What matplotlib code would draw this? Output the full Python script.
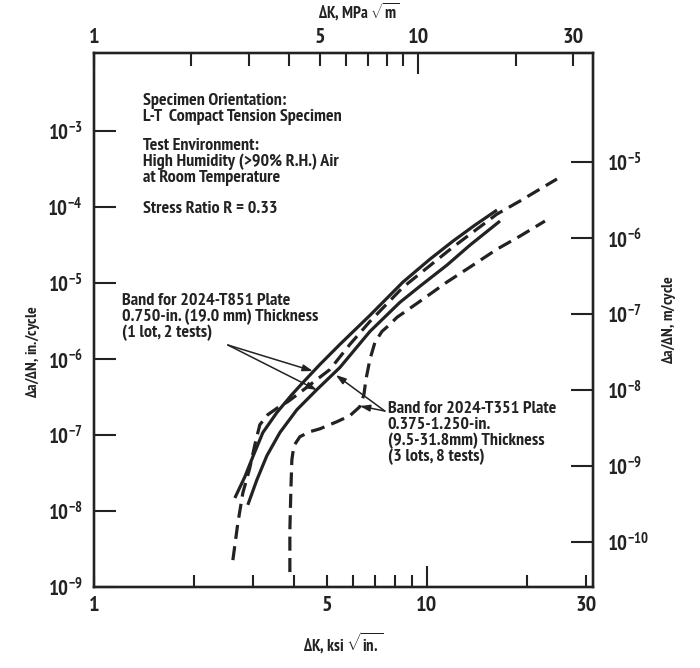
import matplotlib
matplotlib.use("Agg")
import matplotlib.pyplot as plt
from matplotlib import font_manager as fm
from matplotlib.ticker import FixedLocator, NullLocator, FixedFormatter
import numpy as np

# pick an installed condensed sans font that has a static bold file
_weights = {'bold': 700, 'heavy': 800, 'black': 900, 'semibold': 600, 'demibold': 600,
            'normal': 400, 'regular': 400, 'medium': 500, 'light': 300}
def _w(v):
    try:
        return int(v)
    except (TypeError, ValueError):
        return _weights.get(str(v).lower(), 400)
cands = ['Archivo Narrow', 'PT Sans Narrow', 'Roboto Condensed', 'Barlow Condensed',
         'IBM Plex Sans Condensed', 'Encode Sans Condensed', 'Asap Condensed',
         'Sofia Sans Condensed', 'Open Sans Condensed', 'Liberation Sans']
FONT = 'DejaVu Sans'
for c in cands:
    ok = [f for f in fm.fontManager.ttflist
          if f.name == c and _w(f.weight) >= 700 and '[' not in f.fname
          and f.style == 'normal']
    if ok:
        FONT = c
        break

plt.rcParams['font.family'] = [FONT, 'DejaVu Sans']
plt.rcParams['font.weight'] = 'bold'
plt.rcParams['axes.labelweight'] = 'bold'
plt.rcParams['mathtext.fontset'] = 'custom'
plt.rcParams['mathtext.rm'] = FONT + ':bold'
plt.rcParams['mathtext.it'] = FONT + ':bold'
plt.rcParams['mathtext.bf'] = FONT + ':bold'
plt.rcParams['mathtext.sf'] = FONT + ':bold'

INK = '#222222'

# ---- data ----
# 2024-T851 band, upper solid boundary  (dK ksi sqrt(in), da/dN in/cycle)
t851_upper_dk = [2.651, 2.841, 3.002, 3.217, 3.544, 3.932, 4.243, 4.772, 5.479, 6.744,
                 8.472, 10.21, 11.97, 13.94, 16.23]
t851_upper_da = [1.49e-8, 2.83e-8, 5.19e-8, 1.08e-7, 1.98e-7, 3.41e-7, 4.91e-7, 8.49e-7,
                 1.56e-6, 3.76e-6, 1.03e-5, 2.06e-5, 3.56e-5, 5.79e-5, 9.13e-5]
# 2024-T851 band, lower solid boundary
t851_lower_dk = [2.900, 3.087, 3.307, 3.619, 4.071, 4.674, 5.479, 6.744, 8.298, 9.528,
                 11.48, 13.46, 16.57]
t851_lower_da = [1.21e-8, 2.58e-8, 5.35e-8, 1.08e-7, 2.16e-7, 3.97e-7, 7.75e-7, 2.31e-6,
                 5.58e-6, 9.08e-6, 1.72e-5, 3.15e-5, 6.54e-5]
# 2024-T351 band, upper dashed boundary
t351_upper_dk = [2.615, 2.707, 2.802, 2.941, 3.044, 3.151, 3.330, 3.569, 3.825, 4.156,
                 4.547, 5.113, 5.871, 6.744, 8.472, 11.97, 16.23, 19.02, 24.57]
t351_upper_da = [2.27e-9, 6.99e-9, 1.74e-8, 3.72e-8, 7.47e-8, 1.37e-7, 1.86e-7, 2.30e-7,
                 2.76e-7, 3.62e-7, 4.91e-7, 7.29e-7, 1.56e-6, 3.13e-6, 8.80e-6, 2.97e-5,
                 8.08e-5, 1.20e-4, 2.34e-4]
# 2024-T351 band, lower dashed boundary
t351_lower_dk = [3.878, 3.878, 3.905, 3.932, 3.987, 4.156, 4.454, 4.772, 5.366, 5.871,
                 6.293, 6.470, 6.560, 6.744, 6.981, 7.328, 7.744, 8.128, 9.528, 11.48,
                 13.46, 16.23, 19.02, 22.61]
t351_lower_da = [1.58e-9, 5.65e-9, 1.90e-8, 4.74e-8, 7.25e-8, 9.53e-8, 1.11e-7, 1.21e-7,
                 1.50e-7, 1.80e-7, 2.37e-7, 3.41e-7, 5.38e-7, 9.88e-7, 1.66e-6, 2.31e-6,
                 2.86e-6, 3.54e-6, 5.75e-6, 1.03e-5, 1.62e-5, 2.79e-5, 4.14e-5, 6.54e-5]

x_label_ticks = [1, 5, 30]           # labelled short ticks
x_long_ticks = [10]                  # labelled long tick
x_short_ticks = [1, 2, 3, 4, 5, 6, 7, 8, 9, 20, 30]
y_ticks_in = [1e-9, 1e-8, 1e-7, 1e-6, 1e-5, 1e-4, 1e-3]
y_ticks_m = [1e-10, 1e-9, 1e-8, 1e-7, 1e-6, 1e-5]

XMIN, XMAX = 1.0, 31.5
YMIN, YMAX = 1e-9, 1.07e-2
KSI_TO_MPA = 1.0988
IN_TO_M = 0.0254

fig = plt.figure(figsize=(7.0, 6.68), dpi=100)
ax = fig.add_axes([0.134, 0.121, 0.713, 0.800])
ax.set_xscale('log'); ax.set_yscale('log')
ax.set_xlim(XMIN, XMAX); ax.set_ylim(YMIN, YMAX)

lw = 2.3
ax.plot(t851_upper_dk, t851_upper_da, color=INK, lw=lw, solid_capstyle='butt', solid_joinstyle='round')
ax.plot(t851_lower_dk, t851_lower_da, color=INK, lw=lw, solid_capstyle='butt', solid_joinstyle='round')
ax.plot(t351_upper_dk, t351_upper_da, color=INK, lw=lw, dashes=(4.4, 2.3))
ax.plot(t351_lower_dk, t351_lower_da, color=INK, lw=lw, dashes=(4.4, 2.3))

def sup(v):
    e = int(round(np.log10(v)))
    return r'$\mathregular{10^{%d}}$' % e

def style_x(a, labelpad_pts):
    a.xaxis.set_major_locator(FixedLocator(x_long_ticks))
    a.xaxis.set_major_formatter(FixedFormatter([str(v) for v in x_long_ticks]))
    a.xaxis.set_minor_locator(FixedLocator(x_short_ticks))
    a.xaxis.set_minor_formatter(FixedFormatter(
        [str(v) if v in x_label_ticks else '' for v in x_short_ticks]))
    a.tick_params(axis='x', which='major', direction='in', length=15, width=1.5,
                  labelsize=16, pad=labelpad_pts, colors=INK)
    a.tick_params(axis='x', which='minor', direction='in', length=9, width=1.5,
                  labelsize=16, pad=labelpad_pts, colors=INK)

# bottom axis (ksi sqrt in)
style_x(ax, 6)
ax.set_xlabel(r'$\Delta$K, ksi $\sqrt{\mathrm{in.}}$', fontsize=12, color=INK, fontweight='bold')
ax.xaxis.set_label_coords(0.5, -0.08)

# left axis
ax.yaxis.set_major_locator(FixedLocator(y_ticks_in))
ax.yaxis.set_major_formatter(FixedFormatter([sup(v) for v in y_ticks_in]))
ax.yaxis.set_minor_locator(NullLocator())
ax.tick_params(axis='y', which='major', direction='in', length=16, width=1.5, labelsize=15,
               pad=8, colors=INK)
ax.set_ylabel(r'$\Delta$a/$\Delta$N, in./cycle', fontsize=11.5, color=INK, fontweight='bold')
ax.yaxis.set_label_coords(-0.104, 0.44)

# top axis (MPa sqrt m)
axt = ax.twiny()
axt.set_xscale('log')
axt.set_xlim(XMIN * KSI_TO_MPA / 1.0988, XMAX * KSI_TO_MPA)
style_x(axt, 4)
axt.set_xlabel(r'$\Delta$K, MPa $\sqrt{\mathrm{m}}$', fontsize=12, color=INK, fontweight='bold')
axt.xaxis.set_label_coords(0.53, 1.065)

# right axis (m/cycle)
axr = ax.twinx()
axr.set_yscale('log')
axr.set_ylim(YMIN * IN_TO_M, YMAX * IN_TO_M)
axr.yaxis.set_major_locator(FixedLocator(y_ticks_m))
axr.yaxis.set_major_formatter(FixedFormatter([sup(v) for v in y_ticks_m]))
axr.yaxis.set_minor_locator(NullLocator())
axr.tick_params(axis='y', which='major', direction='in', length=16, width=1.5, labelsize=15,
                pad=10, colors=INK)
axr.set_ylabel(r'$\Delta$a/$\Delta$N, m/cycle', fontsize=11.5, color=INK, rotation=90,
               fontweight='bold')
axr.yaxis.set_label_coords(1.132, 0.50)

for a in (ax, axt, axr):
    for s in a.spines.values():
        s.set_linewidth(1.6); s.set_color(INK)

# ---- annotations ----
def px(x, y):
    """reference-pixel position (from top-left) -> axes fraction"""
    x0, x1 = 94, 593
    y0, y1 = 587, 53
    return ((x - x0) / (x1 - x0), (y0 - y) / (y0 - y1))

txt_kw = dict(transform=ax.transAxes, fontsize=13, color=INK, va='top', ha='left',
              linespacing=0.98, fontweight='bold')
ax.text(*px(143, 93), 'Specimen Orientation:\nL-T  Compact Tension Specimen', **txt_kw)
ax.text(*px(143, 138), 'Test Environment:\nHigh Humidity (>90% R.H.) Air\nat Room Temperature', **txt_kw)
ax.text(*px(143, 201), 'Stress Ratio R = 0.33', **txt_kw)
ax.text(*px(122, 293), 'Band for 2024-T851 Plate\n0.750-in. (19.0 mm) Thickness\n(1 lot, 2 tests)', **txt_kw)
ax.text(*px(388, 401), 'Band for 2024-T351 Plate\n0.375-1.250-in.\n(9.5-31.8mm) Thickness\n(3 lots, 8 tests)', **txt_kw)

arrow_kw = dict(arrowstyle='-|>,head_length=0.6,head_width=0.2', color=INK, lw=1.1,
                shrinkA=0, shrinkB=0)
for tip in [(313, 371), (317, 390)]:
    ax.annotate('', xy=px(*tip), xycoords='axes fraction', xytext=px(228, 345),
                textcoords='axes fraction', arrowprops=arrow_kw)
for tip in [(336, 375), (360, 406)]:
    ax.annotate('', xy=px(*tip), xycoords='axes fraction', xytext=px(385, 411),
                textcoords='axes fraction', arrowprops=arrow_kw)

fig.savefig('out.png', dpi=100)
